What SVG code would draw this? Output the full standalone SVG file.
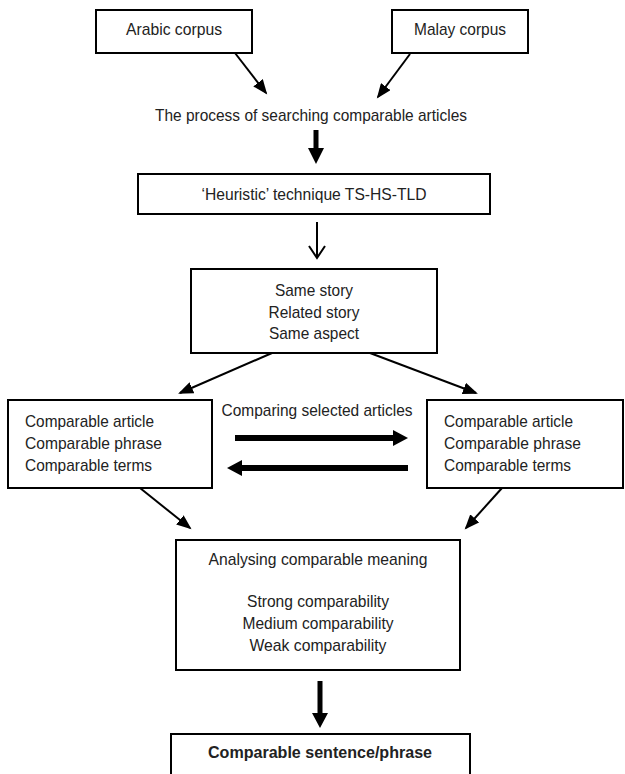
<svg xmlns="http://www.w3.org/2000/svg" width="625" height="774" viewBox="0 0 625 774">
<style>
.box{fill:#fff;stroke:#000;stroke-width:2}
.t{font-family:"Liberation Sans",Arial,sans-serif;font-size:17px;fill:#222}
.c{text-anchor:middle}
.b{font-weight:bold;font-size:16.5px}
.ln{stroke:#000;stroke-width:2;fill:none}
.fill{fill:#000;stroke:none}
</style>
<defs>
<marker id="tri" markerUnits="userSpaceOnUse" markerWidth="16" markerHeight="12" refX="13" refY="6" orient="auto">
<path d="M0,0 L15,6 L0,12 z" fill="#000"/>
</marker>
<marker id="vee" markerUnits="userSpaceOnUse" markerWidth="20" markerHeight="20" refX="13" refY="9" orient="auto">
<path d="M1,1 L13,9 L1,17" fill="none" stroke="#000" stroke-width="2"/>
</marker>
</defs>
<rect width="625" height="774" fill="#fff"/>

<g id="connectors">
<line class="ln" x1="235" y1="53" x2="266" y2="93" marker-end="url(#tri)"/>
<line class="ln" x1="410" y1="54" x2="378" y2="97" marker-end="url(#tri)"/>
<polygon class="fill" points="313.5,130 318.5,130 318.5,148 324,148 316,164 308,148 313.5,148"/>
<line class="ln" x1="317" y1="222" x2="317" y2="258" marker-end="url(#vee)"/>
<line class="ln" x1="272" y1="353" x2="180" y2="393" marker-end="url(#tri)"/>
<line class="ln" x1="370" y1="353" x2="476" y2="393" marker-end="url(#tri)"/>
<polygon class="fill" points="235,435 393,435 393,430 408,438 393,446 393,441 235,441"/>
<polygon class="fill" points="408,465 242,465 242,460 227,468 242,476 242,471 408,471"/>
<line class="ln" x1="140" y1="488" x2="190" y2="528" marker-end="url(#tri)"/>
<line class="ln" x1="502" y1="488" x2="466" y2="528" marker-end="url(#tri)"/>
<polygon class="fill" points="317.5,681 322.5,681 322.5,713 328,713 320,728 312,713 317.5,713"/>
</g>

<g id="arabic">
<rect class="box" x="96" y="10" width="156" height="43"/>
<text class="t c" x="174" y="35" textLength="96" lengthAdjust="spacingAndGlyphs">Arabic corpus</text>
</g>
<g id="malay">
<rect class="box" x="392" y="10" width="136" height="43"/>
<text class="t c" x="460" y="35" textLength="92" lengthAdjust="spacingAndGlyphs">Malay corpus</text>
</g>
<g id="process">
<text class="t c" x="311" y="121" textLength="312" lengthAdjust="spacingAndGlyphs">The process of searching comparable articles</text>
</g>
<g id="heuristic">
<rect class="box" x="138" y="174" width="352" height="40"/>
<text class="t c" x="314" y="200" textLength="225" lengthAdjust="spacingAndGlyphs">‘Heuristic’ technique TS-HS-TLD</text>
</g>
<g id="story">
<rect class="box" x="191" y="269" width="246" height="84"/>
<text class="t c" x="314" y="296" textLength="78" lengthAdjust="spacingAndGlyphs">Same story</text>
<text class="t c" x="314" y="318" textLength="91" lengthAdjust="spacingAndGlyphs">Related story</text>
<text class="t c" x="314" y="339" textLength="90" lengthAdjust="spacingAndGlyphs">Same aspect</text>
</g>
<g id="left">
<rect class="box" x="8" y="400" width="204" height="88"/>
<text class="t" x="25" y="427" textLength="129" lengthAdjust="spacingAndGlyphs">Comparable article</text>
<text class="t" x="25" y="449" textLength="137" lengthAdjust="spacingAndGlyphs">Comparable phrase</text>
<text class="t" x="25" y="471" textLength="127" lengthAdjust="spacingAndGlyphs">Comparable terms</text>
</g>
<g id="compare-label">
<text class="t c" x="317" y="416" textLength="191" lengthAdjust="spacingAndGlyphs">Comparing selected articles</text>
</g>
<g id="right">
<rect class="box" x="427" y="400" width="196" height="88"/>
<text class="t" x="444" y="427" textLength="129" lengthAdjust="spacingAndGlyphs">Comparable article</text>
<text class="t" x="444" y="449" textLength="137" lengthAdjust="spacingAndGlyphs">Comparable phrase</text>
<text class="t" x="444" y="471" textLength="127" lengthAdjust="spacingAndGlyphs">Comparable terms</text>
</g>
<g id="analysis">
<rect class="box" x="176" y="540" width="284" height="130"/>
<text class="t c" x="318" y="565" textLength="219" lengthAdjust="spacingAndGlyphs">Analysing comparable meaning</text>
<text class="t c" x="318" y="607" textLength="142" lengthAdjust="spacingAndGlyphs">Strong comparability</text>
<text class="t c" x="318" y="629" textLength="151" lengthAdjust="spacingAndGlyphs">Medium comparability</text>
<text class="t c" x="318" y="651" textLength="137" lengthAdjust="spacingAndGlyphs">Weak comparability</text>
</g>
<g id="result">
<rect class="box" x="171" y="734" width="299" height="50"/>
<text class="t c b" x="320" y="758" textLength="224" lengthAdjust="spacingAndGlyphs">Comparable sentence/phrase</text>
</g>
</svg>
